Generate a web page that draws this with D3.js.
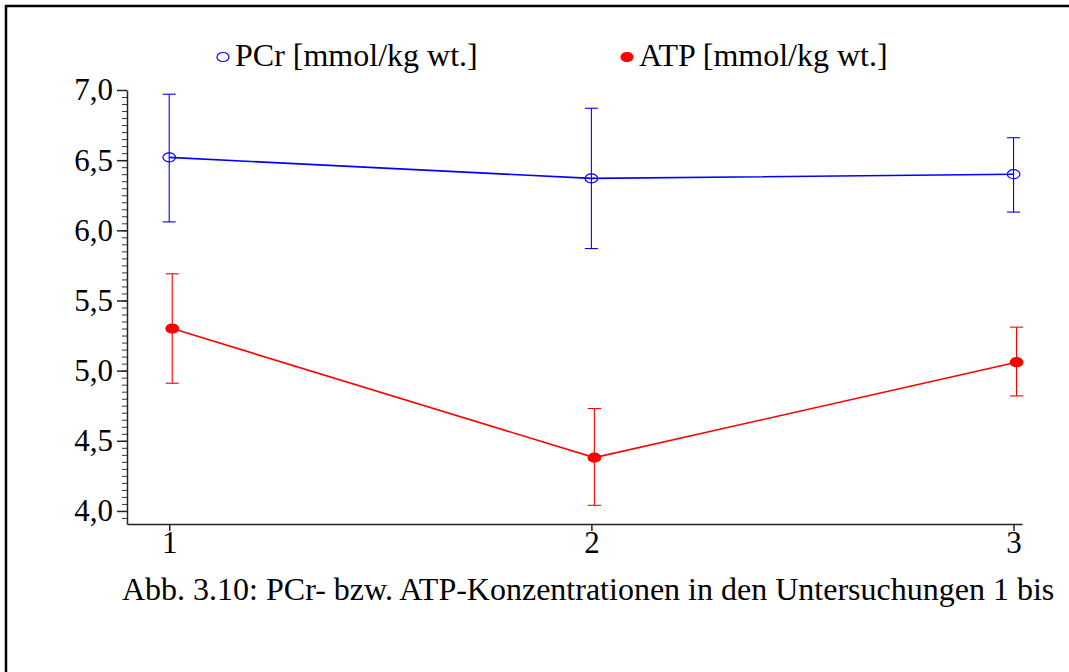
<!DOCTYPE html>
<html>
<head>
<meta charset="utf-8">
<script src="https://cdn.jsdelivr.net/npm/d3@7"></script>
<style>
  body { margin: 0; background: #fff; }
  svg { display: block; font-family: "Liberation Serif", "Times New Roman", serif; }
</style>
</head>
<body>
<svg width="1069" height="672"></svg>
<script>
// Untersuchungen 1..3
let visits = [1, 2, 3];

// PCr [mmol/kg wt.] mean and error bar ends
let pcrMean = [6.52, 6.37, 6.40];
let pcrHigh = [6.97, 6.87, 6.66];
let pcrLow = [6.06, 5.87, 6.13];

// ATP [mmol/kg wt.]
let atpMean = [5.30, 4.38, 5.06];
let atpHigh = [5.69, 4.73, 5.31];
let atpLow = [4.91, 4.04, 4.82];

let yTicks = [4.0, 4.5, 5.0, 5.5, 6.0, 6.5, 7.0];
let xTicks = [1, 2, 3];

let legendLabels = ['PCr [mmol/kg wt.]', 'ATP [mmol/kg wt.]'];
let caption = 'Abb. 3.10: PCr- bzw. ATP-Konzentrationen in den Untersuchungen 1 bis';

let svg = d3.select('svg');

// frame (only left and top edges are visible)
svg.append('path')
  .attr('d', 'M6,680 L6,6 L1080,6')
  .attr('fill', 'none')
  .attr('stroke', '#000')
  .attr('stroke-width', 2.5);

let x = d3.scaleLinear().domain([0.9, 3.02]).range([127, 1022]);
let y = d3.scaleLinear().domain([3.907, 7.0]).range([524, 90]);

// minor ticks every 0.05
let minor = d3.range(3.95, 7.001, 0.05);
svg.append('g')
  .attr('transform', 'translate(127,0)')
  .call(d3.axisLeft(y).tickValues(minor).tickSize(5).tickSizeOuter(0).tickFormat(''))
  .call((g) => g.select('.domain').remove())
  .selectAll('line').attr('stroke', '#333');

// y axis
let yAxis = svg.append('g')
  .attr('transform', 'translate(127,0)')
  .call(d3.axisLeft(y)
    .tickValues(yTicks)
    .tickSize(10)
    .tickSizeOuter(0)
    .tickPadding(4)
    .tickFormat((d) => d3.format('.1f')(d).replace('.', ',')));
yAxis.selectAll('text').attr('font-size', 31).attr('fill', '#000').attr('font-family', 'Liberation Serif');
yAxis.selectAll('line, path').attr('stroke', '#222').attr('stroke-width', 1.5);

// x axis
let xAxis = svg.append('g')
  .attr('transform', 'translate(0,524)')
  .call(d3.axisBottom(x).tickValues(xTicks).tickSize(7).tickSizeOuter(0).tickPadding(0).tickFormat(d3.format('d')));
xAxis.selectAll('text').attr('font-size', 31).attr('fill', '#000').attr('font-family', 'Liberation Serif');
xAxis.selectAll('line, path').attr('stroke', '#222').attr('stroke-width', 1.5);

// series
let series = [
  { mean: pcrMean, high: pcrHigh, low: pcrLow, color: '#0000ff', filled: false, dx: 0 },
  { mean: atpMean, high: atpHigh, low: atpLow, color: '#ff0000', filled: true, dx: 3 }
];

let line = d3.line();

series.forEach((s) => {
  let g = svg.append('g');
  let px = (i) => x(visits[i]) + s.dx;

  // error bars
  visits.forEach((v, i) => {
    g.append('line')
      .attr('x1', px(i)).attr('x2', px(i))
      .attr('y1', y(s.high[i])).attr('y2', y(s.low[i]))
      .attr('stroke', s.color).attr('stroke-width', 1.1);
    [s.high[i], s.low[i]].forEach((e) => {
      g.append('line')
        .attr('x1', px(i) - 6.5).attr('x2', px(i) + 6.5)
        .attr('y1', y(e)).attr('y2', y(e))
        .attr('stroke', s.color).attr('stroke-width', 1.1);
    });
  });

  g.append('path')
    .attr('d', line(visits.map((v, i) => [px(i), y(s.mean[i])])))
    .attr('fill', 'none')
    .attr('stroke', s.color)
    .attr('stroke-width', 1.6);

  g.selectAll('ellipse')
    .data(visits)
    .join('ellipse')
    .attr('cx', (d, i) => px(i))
    .attr('cy', (d, i) => y(s.mean[i]))
    .attr('rx', 6.3)
    .attr('ry', 4.5)
    .attr('fill', s.filled ? s.color : '#fff')
    .attr('fill-opacity', s.filled ? 1 : 0)
    .attr('stroke', s.color)
    .attr('stroke-width', 1.2);
});

// legend
let legendX = [223, 627];
legendLabels.forEach((label, i) => {
  let s = series[i];
  svg.append('ellipse')
    .attr('cx', legendX[i]).attr('cy', 57)
    .attr('rx', 6).attr('ry', 4.5)
    .attr('fill', s.filled ? s.color : '#fff')
    .attr('stroke', s.color)
    .attr('stroke-width', 1.2);
  svg.append('text')
    .attr('x', legendX[i] + 12)
    .attr('y', 66)
    .attr('font-size', 32)
    .text(label);
});

// caption
svg.append('text')
  .attr('x', 122)
  .attr('y', 600)
  .attr('font-size', 32)
  .text(caption);
</script>
</body>
</html>
